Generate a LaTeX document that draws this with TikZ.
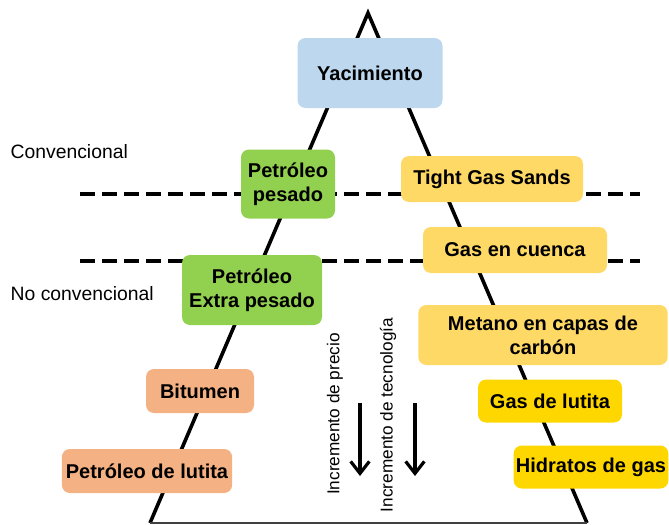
\documentclass[tikz,border=0pt]{standalone}
\usepackage{fontspec}
\setmainfont{Liberation Sans}
\usepackage{xcolor}
\usepackage{tikz}
\usetikzlibrary{arrows.meta}
\definecolor{Ink}{HTML}{000000}
\definecolor{Base}{HTML}{404040}
\definecolor{Blue}{HTML}{BDD7EE}
\definecolor{Green}{HTML}{92D050}
\definecolor{Sand}{HTML}{FFD966}
\definecolor{Gold}{HTML}{FFD700}
\definecolor{Peach}{HTML}{F4B183}
\tikzset{
  box/.style={fill=#1, rounded corners=6pt, align=center, text=Ink, inner sep=3pt,
    font=\fontsize{15}{18}\selectfont\bfseries},
  box/.default=Blue,
  side/.style={anchor=west, text=Ink, font=\fontsize{14.5}{17.5}\selectfont},
  vlabel/.style={rotate=90, text=Ink, font=\fontsize{12.9}{15}\selectfont},
  leg/.style={line width=2.7pt, draw=Ink, line join=miter},
  cut/.style={line width=3pt, draw=Ink, dash pattern=on 11pt off 5.5pt},
  arrow/.style={-{Straight Barb[length=9pt, width=14pt, line width=2.4pt]}, line width=2.4pt, draw=Ink}
}

\begin{document}
\begin{tikzpicture}[x=0.75pt, y=-0.75pt]
  \useasboundingbox (0,0) rectangle (669,525);
  % piramide
  \coordinate (apex) at (368,13);
  \coordinate (bl) at (150,523);
  \coordinate (br) at (587,523);
  \draw[leg] (bl) -- (apex) -- (br);
  \draw[line width=1.5pt, draw=Base] (bl) -- (br);
  % limites
  \draw[cut] (80,194) -- (640,194);
  \draw[cut] (80,261) -- (640,261);
  \node[side] (conv) at (6,152) {Convencional};
  \node[side] (noconv) at (6,294) {No convencional};
  % recursos
  \node[box=Blue, minimum width=108.75pt, minimum height=52.5pt] (yac) at (370,73) {Yacimiento};
  \node[box=Green, minimum width=70.5pt, minimum height=51.75pt] (pp) at (288,184) {Petróleo\\pesado};
  \node[box=Green, minimum width=105pt, minimum height=52.5pt] (pep) at (252,290) {Petróleo\\Extra pesado};
  \node[box=Peach, minimum width=81pt, minimum height=33pt] (bit) at (200,391) {Bitumen};
  \node[box=Peach, minimum width=127.5pt, minimum height=33pt] (pl) at (147,471) {Petróleo de lutita};
  \node[box=Sand, minimum width=136.5pt, minimum height=34.5pt] (tgs) at (492,179) {Tight Gas Sands};
  \node[box=Sand, minimum width=138pt, minimum height=34.5pt] (gc) at (515,250) {Gas en cuenca};
  \node[box=Sand, minimum width=187pt, minimum height=45pt] (met) at (543,335) {Metano en capas de\\carbón};
  \node[box=Gold, minimum width=108pt, minimum height=32.25pt] (gl) at (550,401) {Gas de lutita};
  \node[box=Gold, minimum width=116pt, minimum height=32.25pt, inner xsep=1pt] (hg) at (591,467) {Hidratos de gas};
  % tendencias
  \node[vlabel] (prec) at (335,414) {Incremento de precio};
  \node[vlabel] (tec) at (388,415) {Incremento de tecnología};
  \coordinate (a1) at (360,403);
  \coordinate (b1) at (360,476);
  \coordinate (a2) at (415,403);
  \coordinate (b2) at (415,476);
  \draw[arrow] (a1) -- (b1);
  \draw[arrow] (a2) -- (b2);
\end{tikzpicture}
\end{document}
